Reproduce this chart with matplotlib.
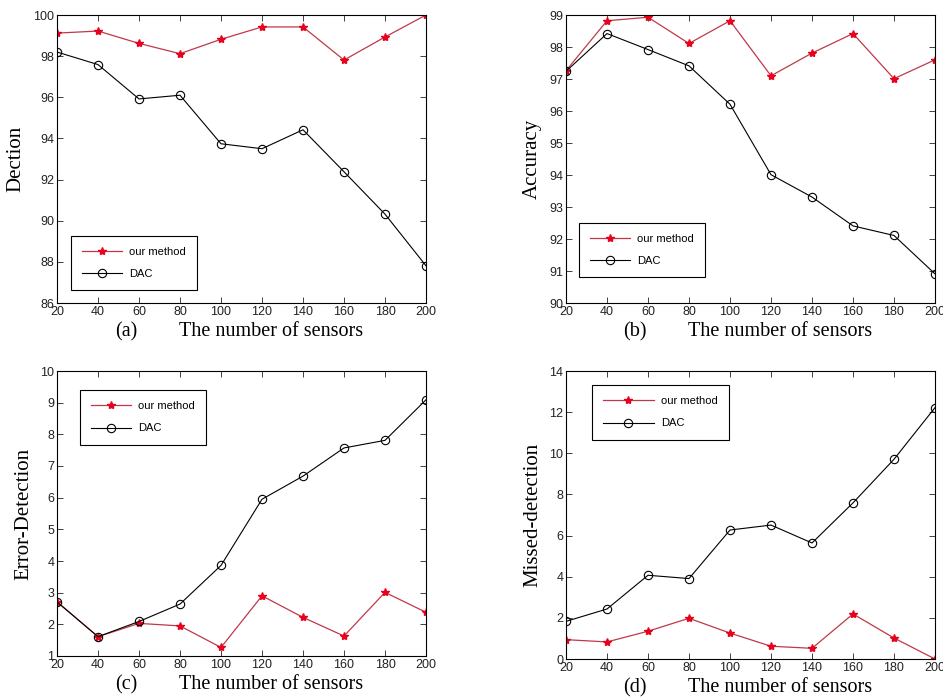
import matplotlib
matplotlib.use('Agg')
import matplotlib.pyplot as plt

sensors = [20, 40, 60, 80, 100, 120, 140, 160, 180, 200]

dection_ours = [99.12, 99.22, 98.62, 98.12, 98.82, 99.42, 99.42, 97.81, 98.93, 100.0]
dection_dac = [98.2, 97.59, 95.92, 96.1, 93.74, 93.5, 94.42, 92.38, 90.32, 87.81]

accuracy_ours = [97.26, 98.82, 98.93, 98.11, 98.82, 97.1, 97.81, 98.42, 97.01, 97.6]
accuracy_dac = [97.24, 98.42, 97.92, 97.41, 96.21, 94.01, 93.31, 92.41, 92.11, 90.91]

error_ours = [2.71, 1.61, 2.03, 1.95, 1.27, 2.90, 2.22, 1.63, 3.01, 2.38]
error_dac = [2.71, 1.61, 2.09, 2.64, 3.86, 5.95, 6.68, 7.57, 7.81, 9.09]

missed_ours = [0.94, 0.83, 1.35, 1.98, 1.26, 0.62, 0.52, 2.19, 1.02, 0.0]
missed_dac = [1.83, 2.43, 4.07, 3.91, 6.27, 6.51, 5.64, 7.59, 9.71, 12.22]

panels = [
    # rect (px), ours, dac, ylabel, ylim, yticks, tag, legend loc, anchor, ylabel x, handle len
    ([57, 15, 426, 303], dection_ours, dection_dac, 'Dection', (86, 100), range(86, 101, 2),
     '(a)', 'lower left', (0.038, 0.045), -0.087, 3.6),
    ([566, 15, 935, 303], accuracy_ours, accuracy_dac, 'Accuracy', (90, 99), range(90, 100),
     '(b)', 'lower left', (0.035, 0.09), -0.065, 3.6),
    ([57, 371, 426, 656], error_ours, error_dac, 'Error-Detection', (1, 10), range(1, 11),
     '(c)', 'upper left', (0.062, 0.933), -0.065, 3.6),
    ([566, 371, 935, 659], missed_ours, missed_dac, 'Missed-detection', (0, 14), range(0, 15, 2),
     '(d)', 'upper left', (0.07, 0.951), -0.065, 4.6),
]

W, H = 943, 700
fig = plt.figure(figsize=(W / 100, H / 100), dpi=100)

for rect, ours, dac, ylab, ylim, yticks, tag, loc, anchor, ylx, hlen in panels:
    x0, y0, x1, y1 = rect
    ax = fig.add_axes([x0 / W, 1 - y1 / H, (x1 - x0) / W, (y1 - y0) / H])
    ax.plot(sensors, ours, color='#c03848', lw=0.9, marker='*', ms=6,
            mfc='#e8001c', mec='#e8001c', label='our method')
    ax.plot(sensors, dac, color='black', lw=0.8, marker='o', ms=6,
            mfc='none', mec='black', mew=0.8, label='DAC')
    ax.set_xlim(20, 200)
    ax.set_ylim(*ylim)
    ax.set_xticks(sensors)
    ax.set_yticks(list(yticks))
    ax.tick_params(direction='in', top=True, right=True, labelsize=9, length=4,
                   width=0.6, pad=2, colors='#222222')
    for lbl in ax.get_xticklabels() + ax.get_yticklabels():
        lbl.set_family('Liberation Sans')
    for s in ax.spines.values():
        s.set_linewidth(0.8)
    ax.set_ylabel(ylab, family='Liberation Serif', fontsize=15)
    ax.yaxis.set_label_coords(ylx, 0.5)
    ax.text(0.188, -0.1, tag, transform=ax.transAxes, family='Liberation Serif',
            fontsize=14.5, ha='center', va='center')
    ax.text(0.58, -0.1, 'The number of sensors', transform=ax.transAxes,
            family='Liberation Serif', fontsize=14.5, ha='center', va='center')
    leg = ax.legend(loc=loc, bbox_to_anchor=anchor, fancybox=False, framealpha=1,
                    edgecolor='black', prop={'family': 'Liberation Sans', 'size': 8},
                    handlelength=hlen, borderpad=1.0, labelspacing=1.1, handletextpad=0.6,
                    borderaxespad=0)
    leg.get_frame().set_linewidth(0.8)

plt.savefig('out.png', dpi=100)
